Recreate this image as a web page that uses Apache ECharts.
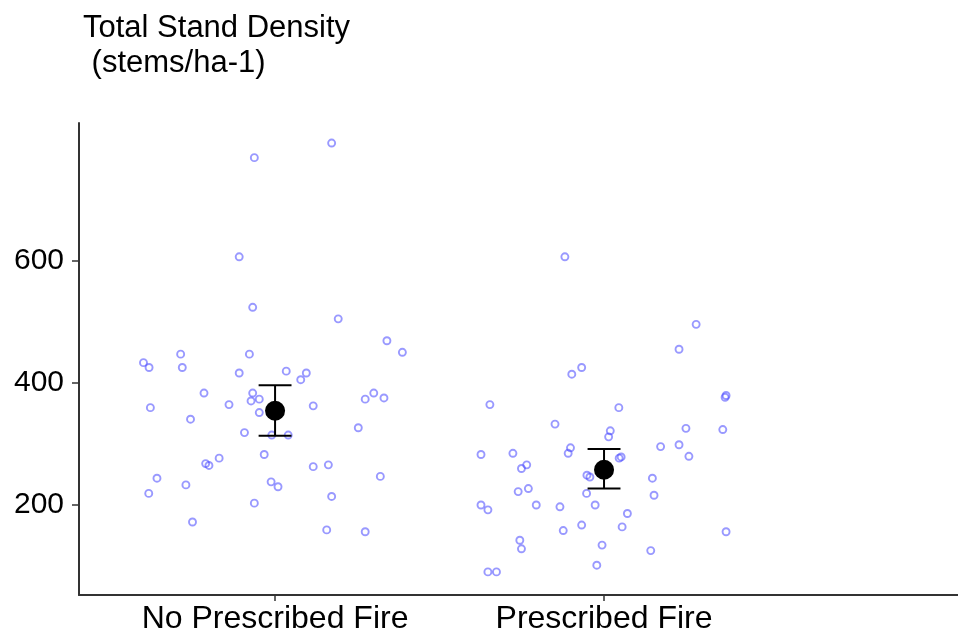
<!DOCTYPE html>
<html>
<head>
<meta charset="utf-8">
<script src="https://cdn.jsdelivr.net/npm/echarts@6/dist/echarts.min.js"></script>
<style>
html,body{margin:0;padding:0;background:#fff;}
#chart{width:958px;height:636px;}
</style>
</head>
<body>
<div id="chart"></div>
<script>
// ---- data ----
const categories = ['No Prescribed Fire', 'Prescribed Fire'];
const yTicks = [200, 400, 600];

// horizontal jitter (in category units) and values for each observation
const noFireJitter = [-0.063,-0.109,-0.068,-0.287,-0.078,-0.400,-0.383,-0.282,-0.109,0.034,
  0.078,-0.216,-0.068,-0.073,-0.048,-0.140,-0.379,-0.048,-0.257,-0.093,
  -0.010,0.040,-0.033,-0.211,-0.201,-0.170,-0.359,-0.271,-0.012,0.009,
  -0.384,-0.063,-0.251,0.172,0.192,0.340,0.387,0.095,0.300,0.274,
  0.331,0.116,0.253,0.116,0.162,0.320,0.172,0.157,0.274];
const noFireValues = [770,607,524,447,447,433,425,425,416,419,
  405,383,383,370,373,364,359,351,340,318,
  314,314,282,267,264,276,243,232,237,229,
  218,202,171,794,505,469,450,416,383,373,
  375,362,326,262,265,246,213,158,155];

const fireJitter = [-0.119,-0.068,-0.098,-0.347,0.045,-0.149,0.019,0.014,-0.374,-0.277,
  -0.102,-0.109,0.052,0.046,-0.235,-0.251,-0.052,-0.043,-0.261,-0.230,
  -0.053,-0.374,-0.353,-0.206,-0.134,-0.027,-0.068,-0.124,-0.256,-0.251,
  -0.006,-0.022,-0.353,-0.327,0.280,0.228,0.368,0.371,0.249,0.361,
  0.172,0.228,0.258,0.147,0.152,0.071,0.055,0.371,0.142];
const fireValues = [607,425,414,364,359,332,321,311,282,284,
  293,284,278,276,265,259,248,245,221,226,
  218,199,191,199,196,199,166,157,141,127,
  133,100,89,89,496,455,376,379,325,323,
  295,298,279,243,215,185,163,155,124];

const meanValues = [354, 257];
const lowerValues = [313, 226];
const upperValues = [396, 291];

// ---- build ----
const catPos = [1, 2];
const pts1 = noFireValues.map((v, i) => [catPos[0] + noFireJitter[i], v]);
const pts2 = fireValues.map((v, i) => [catPos[1] + fireJitter[i], v]);
const meanPts = meanValues.map((v, i) => [catPos[i], v]);
const errData = meanValues.map((v, i) => [catPos[i], lowerValues[i], upperValues[i]]);

const FONT = '"Liberation Sans", Arial, sans-serif';
const chart = echarts.init(document.getElementById('chart'));
const pointStyle = {
  color: 'rgba(255,255,255,0)',
  borderColor: 'rgba(70,70,255,0.55)',
  borderWidth: 1.9,
  opacity: 1
};
chart.setOption({
  animation: false,
  backgroundColor: '#ffffff',
  title: {
    text: 'Total Stand Density\n (stems/ha-1)',
    left: 78, top: 6,
    textStyle: { fontFamily: FONT, fontSize: 31, fontWeight: 'normal', color: '#000', lineHeight: 35 }
  },
  grid: { left: 79, right: 0, top: 123, bottom: 41, containLabel: false },
  xAxis: {
    type: 'value', min: 0.404, max: 3.076,
    splitLine: { show: false },
    axisLine: { show: true, onZero: false, lineStyle: { color: '#333', width: 2 } },
    axisTick: { show: true, customValues: catPos, length: 6, lineStyle: { color: '#333', width: 1.5 } },
    axisLabel: {
      customValues: catPos, margin: 8,
      formatter: v => categories[Math.round(v) - 1] || '',
      fontFamily: FONT, fontSize: 32, color: '#000'
    }
  },
  yAxis: {
    type: 'value', min: 51, max: 827,
    splitLine: { show: false },
    axisLine: { show: true, onZero: false, lineStyle: { color: '#333', width: 2 } },
    axisTick: { show: true, customValues: yTicks, length: 7, lineStyle: { color: '#333', width: 1.5 } },
    axisLabel: { customValues: yTicks, margin: 15, fontFamily: FONT, fontSize: 30, color: '#000' }
  },
  series: [
    { type: 'scatter', data: pts1, symbol: 'circle', symbolSize: 7, itemStyle: pointStyle, z: 2 },
    { type: 'scatter', data: pts2, symbol: 'circle', symbolSize: 7, itemStyle: pointStyle, z: 2 },
    {
      type: 'custom', data: errData, z: 3,
      renderItem: function (params, api) {
        const x = api.value(0);
        const lo = api.coord([x, api.value(1)]);
        const hi = api.coord([x, api.value(2)]);
        const l = api.coord([x - 0.05, api.value(1)]);
        const r = api.coord([x + 0.05, api.value(1)]);
        const half = (r[0] - l[0]) / 2;
        const st = { stroke: '#000', lineWidth: 2 };
        return {
          type: 'group', children: [
            { type: 'line', shape: { x1: lo[0], y1: lo[1], x2: hi[0], y2: hi[1] }, style: st },
            { type: 'line', shape: { x1: lo[0] - half, y1: lo[1], x2: lo[0] + half, y2: lo[1] }, style: st },
            { type: 'line', shape: { x1: hi[0] - half, y1: hi[1], x2: hi[0] + half, y2: hi[1] }, style: st }
          ]
        };
      }
    },
    { type: 'scatter', data: meanPts, symbol: 'circle', symbolSize: 20, itemStyle: { color: '#000', opacity: 1 }, z: 4 }
  ]
});
</script>
</body>
</html>
